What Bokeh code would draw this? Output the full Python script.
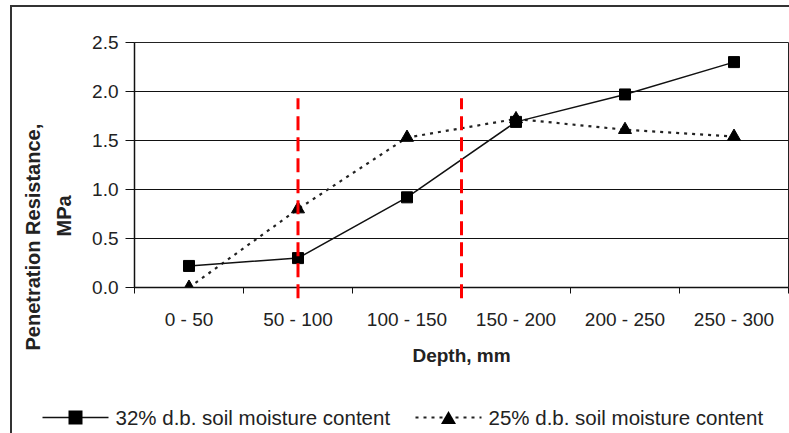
from bokeh.plotting import figure
from bokeh.models import (Range1d, FixedTicker, NumeralTickFormatter, Title, ColumnDataSource)
from bokeh.core.properties import value
from bokeh.embed import file_html
from bokeh.resources import INLINE

# ---- data ----
categories = ["0 - 50", "50 - 100", "100 - 150", "150 - 200", "200 - 250", "250 - 300"]
moist32 = [0.22, 0.30, 0.92, 1.69, 1.97, 2.30]
moist25 = [0.00, 0.80, 1.53, 1.72, 1.61, 1.54]
series_labels = ["32% d.b. soil moisture content", "25% d.b. soil moisture content"]
red_line_x = [1.5, 3.0]
red_line_top = 1.93
red_line_bottom = -0.11
y_ticks = [0.0, 0.5, 1.0, 1.5, 2.0, 2.5]

xs = [i + 0.5 for i in range(len(categories))]
FONT = "Liberation Sans"

FRAME_W, FRAME_H = 654, 245
X_END, Y_END = len(categories), 2.5

STYLE32 = dict(line=dict(line_color="#111", line_width=1.5),
               marker=dict(marker="square", fill_color="black", line_color="black"))
STYLE25 = dict(line=dict(line_color="#222", line_width=2.2, line_dash="3 5"),
               marker=dict(marker="triangle", fill_color="black", line_color="black"))

p = figure(frame_width=FRAME_W, frame_height=FRAME_H, output_backend="svg",
           toolbar_location=None,
           x_range=Range1d(0, X_END), y_range=Range1d(0, Y_END),
           min_border_left=122, min_border_right=1, min_border_top=35, min_border_bottom=146)
p.styles = {"margin-left": "10px", "margin-top": "5px",
            "border-left": "2px solid #333", "border-top": "2px solid #333"}

p.outline_line_color = "#222"
p.outline_line_width = 1
p.background_fill_color = "white"
p.border_fill_color = "white"

# grids
p.xgrid.visible = False
p.ygrid.ticker = FixedTicker(ticks=y_ticks)
p.ygrid.grid_line_color = "#111"
p.ygrid.grid_line_width = 1

# x axis
xa = p.xaxis[0]
xa.ticker = FixedTicker(ticks=xs, minor_ticks=list(range(len(categories) + 1)))
xa.major_label_overrides = {x: c for x, c in zip(xs, categories)}
xa.major_tick_out = 0
xa.major_tick_in = 0
xa.minor_tick_out = 6
xa.minor_tick_in = 0
xa.minor_tick_line_color = "#111"
xa.axis_line_color = "#111"
xa.axis_line_width = 1.5
xa.major_label_text_font = FONT
xa.major_label_text_font_size = "19px"
xa.major_label_text_color = "#222"
xa.major_label_standoff = 15
xa.axis_label = "Depth, mm"
xa.axis_label_text_font = FONT
xa.axis_label_text_font_size = "19px"
xa.axis_label_text_font_style = "bold"
xa.axis_label_text_color = "#222"
xa.axis_label_standoff = 12

# y axis
ya = p.yaxis[0]
ya.ticker = FixedTicker(ticks=y_ticks)
ya.formatter = NumeralTickFormatter(format="0.0")
ya.major_tick_out = 9
ya.major_tick_in = 0
ya.minor_tick_out = 0
ya.minor_tick_in = 0
ya.axis_line_color = "#111"
ya.axis_line_width = 1.5
ya.major_tick_line_color = "#111"
ya.major_label_text_font = FONT
ya.major_label_text_font_size = "19px"
ya.major_label_text_color = "#222"
ya.major_label_standoff = 7

# y label as two left titles
t2 = Title(text="MPa", align="left", offset=51, text_font=FONT, text_font_size="20px",
           text_font_style="bold", text_color="#222", standoff=30)
t1 = Title(text="Penetration Resistance,", align="left", offset=-63, text_font=FONT,
           text_font_size="20px", text_font_style="bold", text_color="#222", standoff=-16)
p.add_layout(t2, "left")
p.add_layout(t1, "left")

# red dashed reference lines
p.segment(x0=red_line_x, x1=red_line_x, y0=[red_line_bottom] * len(red_line_x),
          y1=[red_line_top] * len(red_line_x), line_color="#ff0000", line_width=3,
          line_dash="14 7", level="overlay")

# series
src32 = ColumnDataSource(dict(x=xs, y=moist32))
src25 = ColumnDataSource(dict(x=xs, y=moist25))
p.line("x", "y", source=src25, **STYLE25["line"])
p.scatter("x", "y", source=src25, size=13, **STYLE25["marker"])
p.line("x", "y", source=src32, **STYLE32["line"])
p.scatter("x", "y", source=src32, size=11, **STYLE32["marker"])

# legend row below the axis title (drawn with overlay glyphs, placed in pixels
# relative to the frame and converted through the frame's scale)
def px_x(px):   # pixel offset from frame left -> data x
    return px * X_END / FRAME_W

def px_y(px):   # pixel offset from frame bottom (negative = below) -> data y
    return px * Y_END / FRAME_H

ROW = -130
items = [(series_labels[0], STYLE32, -92), (series_labels[1], STYLE25, 281)]
for label, style, start in items:
    row_y = px_y(ROW)
    p.line(x=[px_x(start), px_x(start + 66)], y=[row_y, row_y], level="overlay",
           **style["line"])
    c = start + 33
    if style["marker"]["marker"] == "square":
        p.varea(x=[px_x(c - 7), px_x(c + 7)], y1=[px_y(ROW - 7)] * 2, y2=[px_y(ROW + 7)] * 2,
                fill_color="black", level="overlay")
    else:
        p.varea(x=[px_x(c - 7.5), px_x(c), px_x(c + 7.5)], y1=[px_y(ROW - 6.5)] * 3,
                y2=[px_y(ROW - 6.5), px_y(ROW + 6.5), px_y(ROW - 6.5)],
                fill_color="black", level="overlay")
    p.text(x=[px_x(start + 73)], y=[row_y], text=[label], text_font=value(FONT),
           text_font_size="20.5px", text_color="#222", text_baseline="middle",
           text_align="left", level="overlay")

open("out.html", "w").write(file_html(p, INLINE))
